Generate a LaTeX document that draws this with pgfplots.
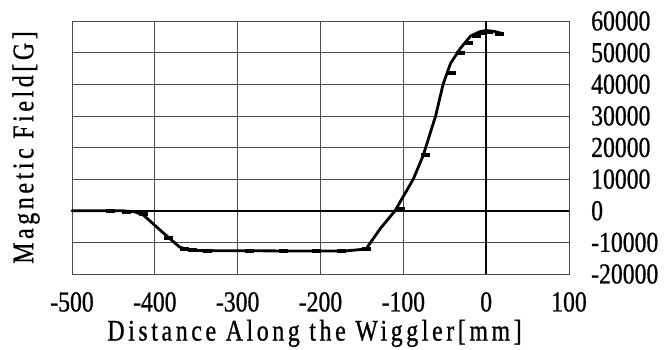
\documentclass[border=0pt]{standalone}
\usepackage{fontspec}
\setmainfont{Liberation Serif}[FakeStretch=0.82, FakeBold=0.8]
\newfontfamily\labelfont{Liberation Serif}[FakeStretch=0.8, FakeBold=0.8, LetterSpace=12]
\usepackage{pgfplots}
\pgfplotsset{compat=1.18}
\begin{document}
\begin{tikzpicture}
\begin{axis}[
  scale only axis, width=497bp, height=253bp,
  at={(72bp,76bp)}, anchor=south west,
  xmin=-500, xmax=100, ymin=-20000, ymax=60000,
  xtick={-500,-400,-300,-200,-100,0,100},
  xticklabels={-500,-400,-300,-200,-100,0,100},
  ytick={-20000,-10000,0,10000,20000,30000,40000,50000,60000},
  yticklabels={-20000,-10000,0,10000,20000,30000,40000,50000,60000},
  yticklabel pos=right,
  major tick length=0pt,
  grid=major, grid style={black!70, line width=0.7bp},
  axis line style={black!70, line width=0.7bp},
  tick label style={font=\fontsize{29}{31}\selectfont, inner sep=0pt},
  xticklabel style={anchor=north, yshift=-18bp},
  yticklabel style={anchor=west, xshift=22bp},
  xlabel={Distance Along the Wiggler[mm]},
  ylabel={Magnetic Field[G]},
  label style={font=\labelfont\fontsize{30}{32}\selectfont, inner sep=0pt},
  xlabel style={at={(axis description cs:0.488,-0.263)}, anchor=base},
  ylabel style={at={(axis description cs:-0.078,0.5)}, anchor=base},
  scaled y ticks=false,
  clip=false,
]
\addplot[black, line width=2.4bp] coordinates {(-500,0)(100,0)};
\addplot[black, line width=2.4bp] coordinates {(0,-20000)(0,60000)};
\addplot[black, line width=2.8bp, line join=round, line cap=round] coordinates {
(-500,0)(-440,0)(-425,-300)(-414,-1300)(-392,-6500)(-370,-11500)(-360,-12300)
(-345,-12600)(-250,-12700)(-170,-12700)(-145,-12100)(-128,-5700)(-110,0)
(-88,10000)(-76,17500)(-61,30000)(-52,40000)(-43,46600)(-31,51400)(-19,55200)
(-8,56600)(0,57000)(10,56700)(20,56000)};
\addplot[only marks, mark=-, mark size=4.5bp, mark options={line width=4bp, black}] coordinates {
(-454,0)(-434,-300)(-414,-1000)(-384,-8500)(-364,-12000)(-354,-12500)(-336,-12600)
(-286,-12600)(-245,-12800)(-205,-12800)(-175,-12800)(-145,-12000)(-104,500)
(-73,17600)(-42,43500)(-31,49800)(-21,53200)(-12,55200)(-5,56300)(3,56600)(16,55900)};
\end{axis}
\pgfresetboundingbox
\path (0bp,0bp) rectangle (672bp,350bp);
\end{tikzpicture}
\end{document}
